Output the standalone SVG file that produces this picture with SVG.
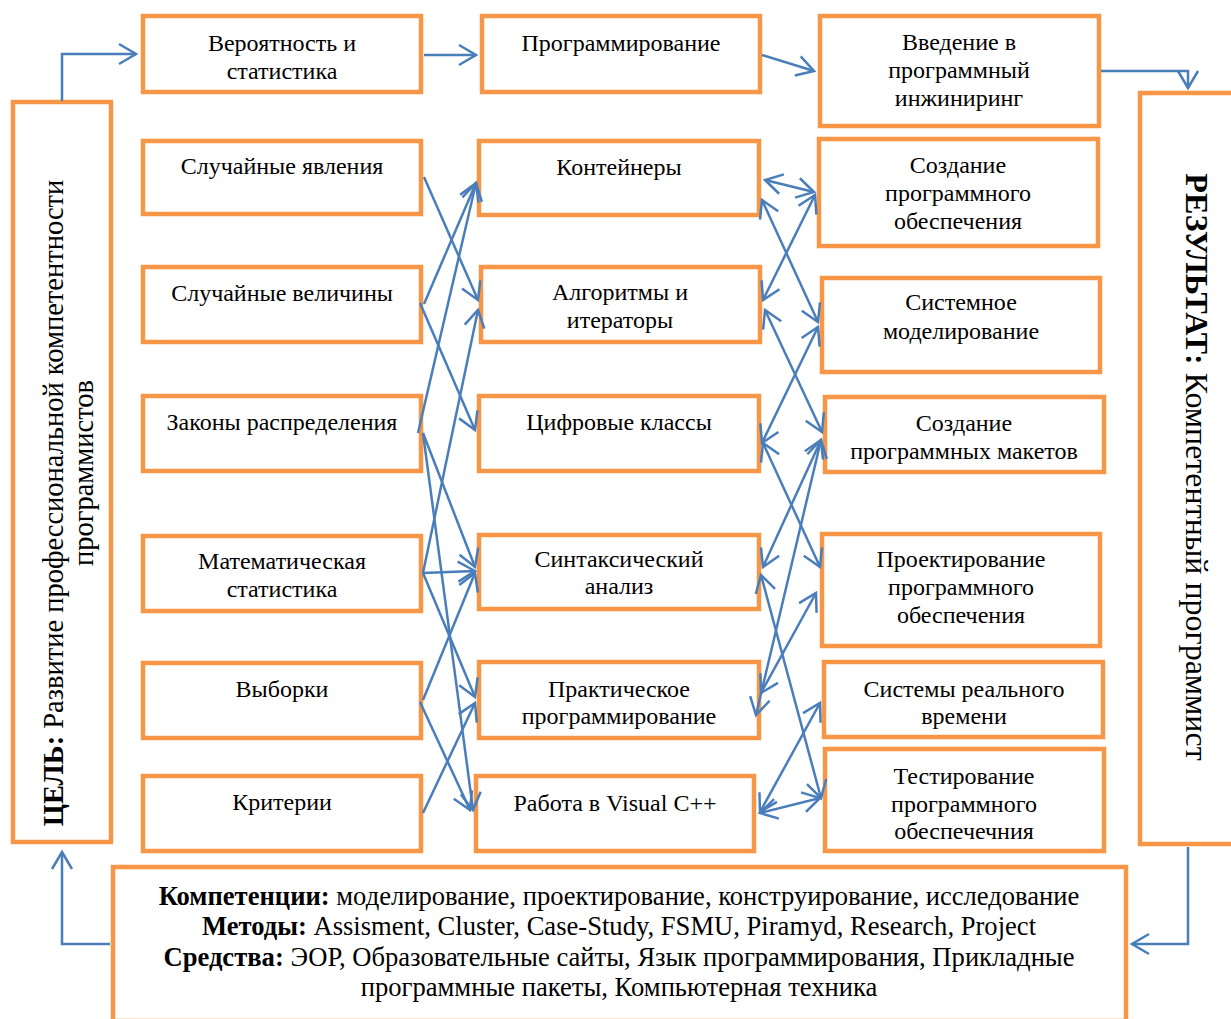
<svg xmlns="http://www.w3.org/2000/svg" width="1231" height="1019" viewBox="0 0 1231 1019">
<style>
.box{fill:#fff;stroke:#F79646;stroke-width:4.5}
.t{font-family:"Liberation Serif","Times New Roman",serif;font-size:24px;fill:#000;text-anchor:middle}
.g{font-size:28.5px}
.r{font-size:32px}
.b{font-size:26.6px}
.c{fill:none;stroke:#4A7EBB;stroke-width:2.5}
.e{marker-end:url(#ah)}
.d{marker-start:url(#ah);marker-end:url(#ah)}
</style>
<defs>
<marker id="ah" markerUnits="userSpaceOnUse" markerWidth="24" markerHeight="24" refX="20" refY="12" orient="auto-start-reverse">
<path d="M3,2 L20,12 L3,22" fill="none" stroke="#4A7EBB" stroke-width="2.5"/>
</marker>
</defs>
<rect width="1231" height="1019" fill="#fff"/>

<g id="goal"><rect class="box" x="13" y="102" width="98" height="740"/>
<text class="t g" transform="translate(63,503) rotate(-90)"><tspan font-weight="bold">ЦЕЛЬ:</tspan> Развитие профессиональной компетентности</text>
<text class="t g" transform="translate(93,473) rotate(-90)">программистов</text></g>

<g id="result"><rect class="box" x="1140" y="93" width="96" height="751"/>
<text class="t r" transform="translate(1186,467) rotate(90)"><tspan font-weight="bold">РЕЗУЛЬТАТ:</tspan> Компетентный программист</text></g>

<g id="n_prob"><rect class="box" x="143" y="16" width="278" height="76"/><text class="t" x="282" y="51">Вероятность и</text><text class="t" x="282" y="79">статистика</text></g>
<g id="n_prog"><rect class="box" x="482" y="16" width="278" height="76"/><text class="t" x="621" y="51">Программирование</text></g>
<g id="n_intro"><rect class="box" x="820" y="16" width="279" height="110"/><text class="t" x="959" y="50">Введение в</text><text class="t" x="959" y="78">программный</text><text class="t" x="959" y="106">инжиниринг</text></g>

<g id="n_l1"><rect class="box" x="143" y="141" width="278" height="73"/><text class="t" x="282" y="174">Случайные явления</text></g>
<g id="n_l2"><rect class="box" x="143" y="267" width="278" height="75"/><text class="t" x="282" y="301">Случайные величины</text></g>
<g id="n_l3"><rect class="box" x="143" y="396" width="278" height="75"/><text class="t" x="282" y="430">Законы распределения</text></g>
<g id="n_l4"><rect class="box" x="143" y="536" width="278" height="75"/><text class="t" x="282" y="569">Математическая</text><text class="t" x="282" y="597">статистика</text></g>
<g id="n_l5"><rect class="box" x="143" y="663" width="278" height="75"/><text class="t" x="282" y="697">Выборки</text></g>
<g id="n_l6"><rect class="box" x="143" y="776" width="278" height="75"/><text class="t" x="282" y="810">Критерии</text></g>

<g id="n_m1"><rect class="box" x="479" y="141" width="280" height="74"/><text class="t" x="619" y="175">Контейнеры</text></g>
<g id="n_m2"><rect class="box" x="481" y="267" width="279" height="75"/><text class="t" x="620" y="300">Алгоритмы и</text><text class="t" x="620" y="328">итераторы</text></g>
<g id="n_m3"><rect class="box" x="479" y="396" width="280" height="75"/><text class="t" x="619" y="430">Цифровые классы</text></g>
<g id="n_m4"><rect class="box" x="479" y="535" width="280" height="74"/><text class="t" x="619" y="567">Синтаксический</text><text class="t" x="619" y="594">анализ</text></g>
<g id="n_m5"><rect class="box" x="479" y="662" width="280" height="76"/><text class="t" x="619" y="697">Практическое</text><text class="t" x="619" y="724">программирование</text></g>
<g id="n_m6"><rect class="box" x="476" y="776" width="278" height="75"/><text class="t" x="615" y="811">Работа в Visual C++</text></g>

<g id="n_r1"><rect class="box" x="819" y="139" width="279" height="107"/><text class="t" x="958" y="173">Создание</text><text class="t" x="958" y="201">программного</text><text class="t" x="958" y="229">обеспечения</text></g>
<g id="n_r2"><rect class="box" x="822" y="278" width="278" height="94"/><text class="t" x="961" y="310">Системное</text><text class="t" x="961" y="339">моделирование</text></g>
<g id="n_r3"><rect class="box" x="825" y="397" width="279" height="75"/><text class="t" x="964" y="431">Создание</text><text class="t" x="964" y="459">программных макетов</text></g>
<g id="n_r4"><rect class="box" x="822" y="534" width="278" height="112"/><text class="t" x="961" y="567">Проектирование</text><text class="t" x="961" y="595">программного</text><text class="t" x="961" y="623">обеспечения</text></g>
<g id="n_r5"><rect class="box" x="824" y="662" width="279" height="75"/><text class="t" x="964" y="697">Системы реального</text><text class="t" x="964" y="724">времени</text></g>
<g id="n_r6"><rect class="box" x="825" y="749" width="279" height="102"/><text class="t" x="964" y="784">Тестирование</text><text class="t" x="964" y="812">программного</text><text class="t" x="964" y="839">обеспечечния</text></g>

<g id="n_bottom"><rect class="box" x="113" y="867" width="1013" height="154"/>
<text class="t b" x="619" y="905"><tspan font-weight="bold">Компетенции:</tspan> моделирование, проектирование, конструирование, исследование</text>
<text class="t b" x="619" y="935"><tspan font-weight="bold">Методы:</tspan> Assisment, Cluster, Case-Study, FSMU, Piramyd, Research, Project</text>
<text class="t b" x="619" y="966"><tspan font-weight="bold">Средства:</tspan> ЭОР, Образовательные сайты, Язык программирования, Прикладные</text>
<text class="t b" x="619" y="996">программные пакеты, Компьютерная техника</text></g>

<g id="connectors">
<path class="c e" d="M62,101 V54 H136"/>
<path class="c e" d="M424,55 H476"/>
<path class="c e" d="M762,55 L814,71"/>
<path class="c e" d="M1101,71 H1188 V88"/>
<path class="c e" d="M1188,847 V944 H1132"/>
<path class="c e" d="M110,944 H62 V852"/>

<path class="c e" d="M424,177 L478,300"/>
<path class="c e" d="M424,304 L476,183"/>
<path class="c e" d="M420,303 L475,430"/>
<path class="c e" d="M418,433 L476,183"/>
<path class="c e" d="M423,433 L475,567"/>
<path class="c e" d="M423,433 L473,810"/>
<path class="c e" d="M423,573 L478,310"/>
<path class="c e" d="M423,573 L475,571"/>
<path class="c e" d="M423,573 L475,697"/>
<path class="c e" d="M423,700 L475,573"/>
<path class="c e" d="M420,702 L470,810"/>
<path class="c e" d="M423,813 L475,703"/>

<path class="c d" d="M765,180 L814,192"/>
<path class="c d" d="M762,200 L818,322"/>
<path class="c d" d="M763,300 L815,195"/>
<path class="c d" d="M765,310 L822,432"/>
<path class="c d" d="M762,443 L818,327"/>
<path class="c d" d="M763,443 L820,567"/>
<path class="c d" d="M763,567 L821,440"/>
<path class="c d" d="M756,715 L821,440"/>
<path class="c d" d="M761,575 L821,798"/>
<path class="c d" d="M761,693 L816,593"/>
<path class="c d" d="M760,812 L820,703"/>
<path class="c d" d="M760,813 L820,798"/>
</g>
</svg>
